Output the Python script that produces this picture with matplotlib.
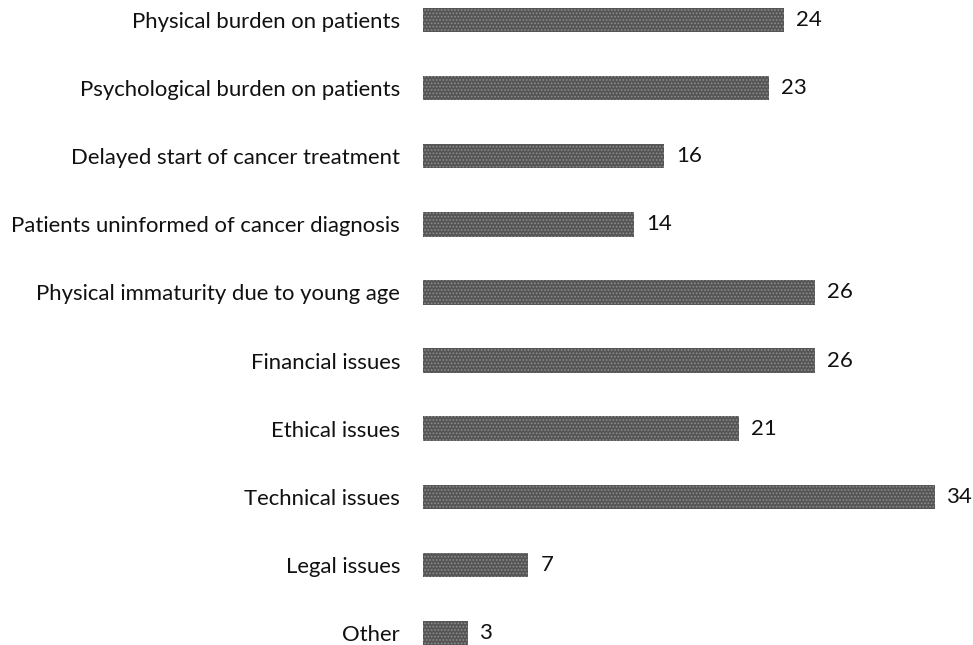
import matplotlib
matplotlib.use("Agg")
import matplotlib.pyplot as plt

categories = [
    "Physical burden on patients",
    "Psychological burden on patients",
    "Delayed start of cancer treatment",
    "Patients uninformed of cancer diagnosis",
    "Physical immaturity due to young age",
    "Financial issues",
    "Ethical issues",
    "Technical issues",
    "Legal issues",
    "Other",
]
values = [24, 23, 16, 14, 26, 26, 21, 34, 7, 3]

plt.rcParams['font.family'] = ['Lato', 'DejaVu Sans']
plt.rcParams['hatch.color'] = '#8c8c8c'
plt.rcParams['hatch.linewidth'] = 0.8

W, H = 973, 645
fig = plt.figure(figsize=(W / 100, H / 100), dpi=100)
left, right = 423, 935
ax = fig.add_axes([left / W, 0, (right - left) / W, 1])

y = list(range(len(categories)))
ax.barh(y, values, height=0.36, color='#555555', linewidth=0, hatch='.....')
ax.set_xlim(0, 34)
ax.set_ylim(9 + 12 / 68.1, -20 / 68.1)
ax.set_yticks(y)
ax.set_yticklabels(categories, fontsize=15.9, color='#111111')
ax.tick_params(axis='y', length=0, pad=16.5)
ax.set_xticks([])
for s in ax.spines.values():
    s.set_visible(False)
for yi, v in zip(y, values):
    ax.text(v + 0.8, yi, str(v), va='center', ha='left', fontsize=15.9, color='#111111')

fig.savefig("out.png", dpi=100)
